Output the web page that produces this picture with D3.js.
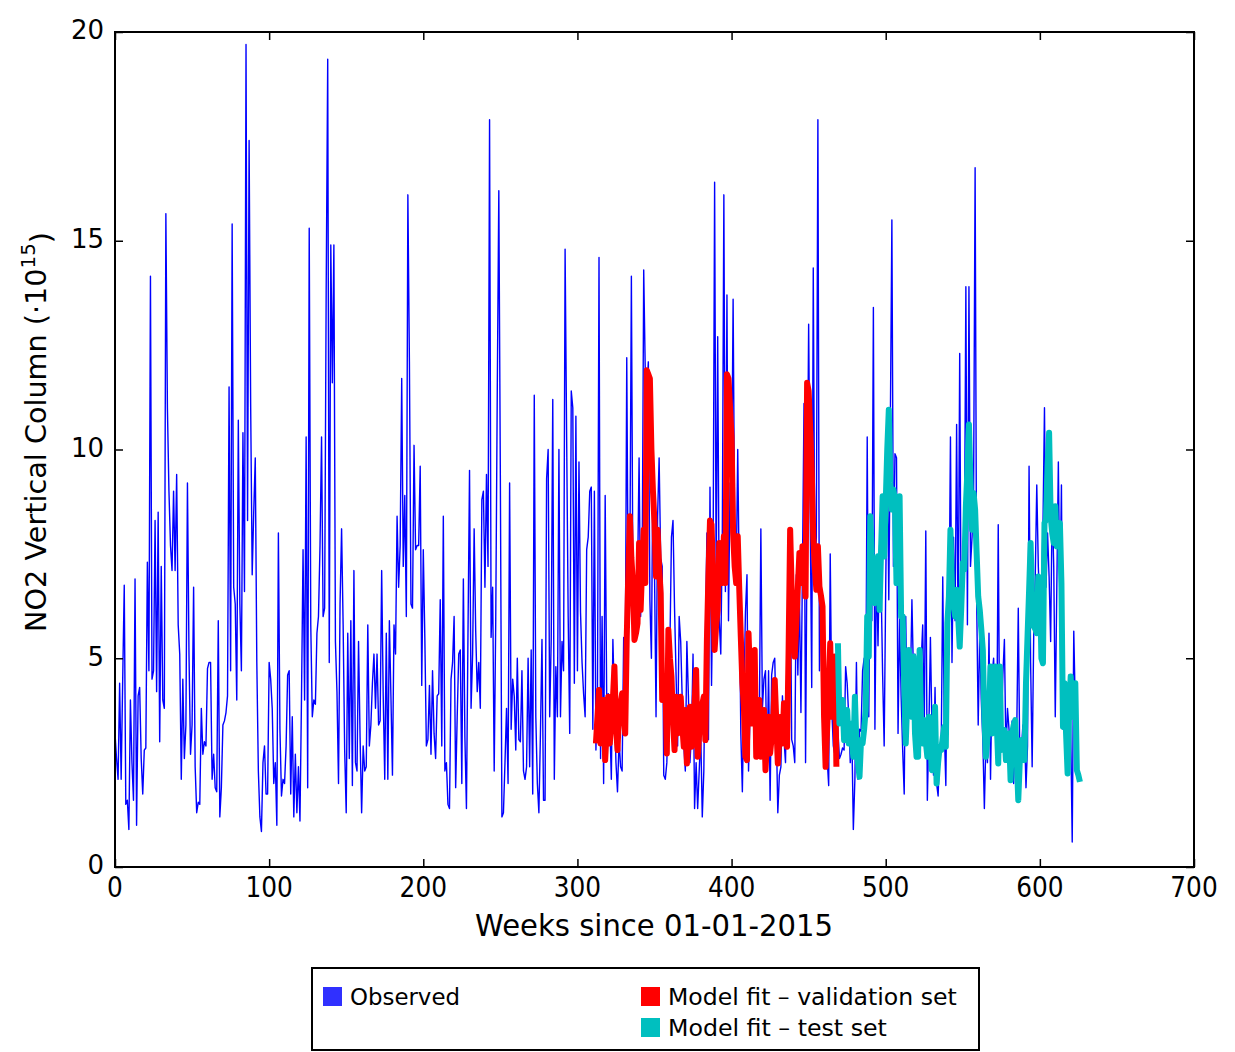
<!DOCTYPE html>
<html>
<head>
<meta charset="utf-8">
<script src="https://cdn.jsdelivr.net/npm/d3@7"></script>
<style>
  html, body { margin: 0; padding: 0; background: #fff; }
  svg { display: block; }
  text { font-family: "DejaVu Sans", "Liberation Sans", sans-serif; fill: #000; }
</style>
</head>
<body>
<svg id="chart" width="1235" height="1052"></svg>
<script>
// Weekly NO2 vertical column (units of 1e15), week index = position in array
const observed = [
  3.2, 2.6, 2.1, 4.4, 2.1, 4.5, 6.75, 1.5, 1.6, 0.9,
  4.0, 2.5, 1.6, 6.9, 1.0, 4.1, 4.3, 2.6, 1.75, 2.8,
  2.85, 7.3, 4.7, 14.15, 4.5, 4.7, 8.3, 4.2, 8.5, 3.0,
  7.2, 4.0, 3.8, 15.65, 11.0, 9.0, 7.7, 7.1, 9.0, 7.1,
  9.4, 5.8, 5.1, 2.1, 4.5, 2.6, 3.4, 9.2, 5.1, 2.7,
  3.4, 6.7, 2.4, 1.3, 1.55, 1.5, 3.8, 2.7, 3.0, 2.9,
  4.75, 4.9, 4.9, 2.1, 2.7, 1.9, 1.8, 5.9, 1.2, 1.9,
  3.4, 3.5, 3.7, 4.1, 11.5, 4.7, 15.4, 6.7, 6.3, 4.0,
  10.7, 6.3, 4.7, 10.4, 6.6, 19.7, 8.3, 17.4, 11.1, 7.0,
  8.5, 9.8, 4.9, 2.3, 1.2, 0.85, 2.5, 2.9, 1.75, 1.75,
  4.9, 4.5, 3.8, 2.0, 2.5, 1.0, 8.0, 3.3, 1.7, 2.1,
  2.0, 2.9, 4.6, 4.7, 1.75, 3.6, 1.2, 2.7, 1.3, 2.4,
  1.1, 4.1, 7.6, 4.0, 10.3, 1.9, 15.3, 5.8, 3.6, 4.0,
  3.9, 5.6, 6.0, 7.7, 10.3, 6.0, 6.2, 13.8, 19.35, 4.9,
  14.9, 11.6, 14.9, 5.4, 4.2, 2.0, 6.3, 8.1, 5.8, 2.8,
  1.3, 5.6, 2.6, 5.9, 1.95, 7.1, 2.5, 2.3, 5.4, 3.1,
  1.3, 2.9, 2.3, 2.4, 5.8, 2.9, 3.4, 4.4, 5.1, 3.8,
  5.1, 3.4, 3.5, 7.1, 4.1, 2.1, 5.6, 2.1, 5.9, 4.1,
  2.2, 5.8, 5.1, 8.4, 6.7, 7.7, 11.7, 7.2, 8.9, 6.0,
  16.1, 12.1, 6.3, 6.2, 10.1, 7.6, 7.7, 7.7, 9.6, 4.35,
  7.6, 5.5, 2.9, 3.05, 4.35, 2.7, 4.7, 3.2, 2.6, 4.1,
  4.15, 6.4, 2.9, 8.4, 2.3, 2.5, 1.5, 1.4, 4.5, 4.9,
  6.0, 1.9, 3.6, 5.1, 5.2, 2.0, 6.9, 3.1, 1.4, 5.6,
  9.5, 3.8, 5.1, 8.1, 5.65, 4.2, 4.9, 3.8, 8.8, 9.0,
  6.7, 9.4, 7.2, 17.9, 5.5, 6.7, 2.3, 5.9, 11.4, 16.2,
  9.3, 1.2, 1.3, 2.5, 3.8, 2.0, 9.2, 3.3, 4.5, 4.1,
  2.8, 5.0, 3.05, 3.0, 4.7, 2.3, 2.1, 2.4, 5.0, 2.4,
  5.2, 1.75, 11.3, 3.6, 2.0, 1.3, 3.2, 5.45, 1.6, 1.6,
  9.3, 10.0, 3.6, 5.45, 11.2, 2.1, 4.8, 3.6, 10.0, 3.6,
  5.4, 4.7, 14.8, 10.3, 6.0, 3.2, 11.4, 11.0, 4.4, 10.8,
  4.7, 9.7, 6.1, 4.9, 4.15, 3.6, 7.6, 7.9, 9.0, 9.1,
  3.3, 9.0, 2.8, 4.15, 14.6, 2.6, 6.0, 2.0, 8.9, 4.0,
  4.15, 3.5, 2.1, 5.45, 4.0, 2.5, 1.8, 3.05, 2.4, 2.3,
  5.5, 4.4, 12.2, 6.0, 7.1, 14.15, 6.7, 5.9, 6.2, 6.9,
  9.8, 6.0, 7.2, 14.3, 11.9, 11.4, 12.1, 6.4, 5.0, 9.8,
  7.1, 3.6, 8.4, 9.8, 7.4, 7.2, 2.2, 2.1, 2.5, 4.0,
  5.3, 7.9, 8.3, 6.2, 4.6, 2.9, 6.0, 5.4, 4.0, 2.9,
  2.3, 5.4, 4.1, 2.5, 3.2, 5.1, 1.4, 2.5, 1.4, 2.3,
  3.2, 1.2, 2.3, 5.4, 8.0, 3.05, 9.1, 4.35, 7.2, 16.4,
  6.8, 12.7, 5.9, 5.1, 8.0, 16.1, 6.6, 13.7, 5.9, 9.2,
  8.8, 13.6, 8.0, 6.9, 10.0, 6.75, 3.2, 1.8, 4.1, 6.1,
  7.0, 2.3, 3.7, 4.8, 3.7, 2.7, 3.05, 4.0, 3.45, 8.1,
  3.8, 4.5, 4.7, 2.3, 4.7, 1.6, 4.6, 4.9, 5.0, 3.3,
  1.3, 2.2, 2.4, 4.1, 3.05, 2.5, 5.3, 3.6, 7.7, 3.05,
  2.9, 2.5, 7.0, 4.6, 6.6, 3.7, 7.2, 11.1, 2.5, 8.0,
  13.0, 8.5, 4.3, 14.35, 7.1, 7.9, 17.9, 4.7, 6.6, 6.4,
  5.1, 3.4, 2.6, 1.95, 7.5, 3.8, 2.9, 2.7, 4.0, 3.25,
  2.6, 2.7, 2.85, 2.8, 4.8, 4.4, 3.6, 2.5, 3.25, 0.9,
  2.1, 4.9, 2.1, 3.3, 3.25, 4.7, 5.0, 3.4, 10.3, 3.6,
  7.7, 5.9, 13.4, 3.3, 7.3, 5.3, 7.7, 6.8, 4.6, 2.9,
  6.7, 10.1, 6.4, 10.6, 15.5, 7.2, 9.9, 9.8, 3.2, 6.0,
  4.1, 2.8, 1.75, 6.0, 3.3, 4.1, 4.35, 6.4, 4.6, 5.1,
  3.25, 4.5, 5.0, 4.9, 5.8, 3.3, 8.05, 1.6, 3.3, 5.5,
  3.3, 2.2, 4.3, 2.0, 1.7, 2.9, 2.8, 6.95, 3.3, 1.95,
  5.3, 5.65, 10.3, 4.9, 7.9, 5.9, 10.6, 5.4, 12.3, 5.3,
  7.1, 7.2, 13.9, 5.8, 13.9, 7.2, 7.9, 8.9, 16.75, 6.4,
  3.4, 5.65, 4.0, 3.05, 1.4, 3.05, 2.5, 5.6, 2.1, 4.6,
  5.0, 3.7, 2.9, 8.2, 2.6, 3.4, 4.6, 5.45, 2.7, 3.8,
  3.3, 2.7, 3.5, 2.0, 3.05, 3.2, 6.2, 2.5, 2.8, 3.4,
  3.4, 1.9, 2.9, 9.6, 4.9, 2.4, 5.5, 6.95, 9.15, 7.2,
  6.2, 6.55, 8.1, 11.0, 6.7, 8.0, 6.95, 5.4, 8.75, 7.2,
  3.6, 6.7, 9.7, 6.2, 9.15, 3.3, 4.2, 3.6, 4.0, 4.6,
  3.3, 0.6, 5.65, 3.8, 2.3
];

// Model fit on the validation weeks (starting at week 312)
const validationStart = 312;
const validationFit = [
  2.96, 3.6, 4.24, 2.96, 3.5, 4.0, 2.56, 3.3, 4.08, 2.96,
  3.5, 4.0, 4.8, 3.4, 2.8, 3.76, 3.9, 4.16, 3.6, 3.2,
  5.52, 7.0, 8.4, 7.4, 6.8, 5.44, 5.6, 5.84, 7.76, 6.16,
  7.2, 8.08, 6.8, 11.9, 11.8, 11.7, 10.0, 9.0, 8.23, 6.96,
  8.08, 7.2, 6.56, 4.0, 4.3, 4.56, 2.72, 5.68, 5.0, 4.56,
  3.5, 2.8, 4.08, 3.2, 3.6, 4.08, 3.4, 2.88, 3.76, 2.48,
  3.1, 3.84, 2.88, 3.4, 3.92, 4.72, 2.64, 3.2, 3.6, 3.9,
  4.08, 3.04, 5.44, 7.0, 8.3, 8.2, 6.96, 5.2, 5.8, 6.16,
  7.76, 7.2, 6.8, 7.92, 6.8, 11.8, 11.7, 11.0, 10.3, 8.0,
  7.2, 6.8, 7.92, 6.64, 5.5, 4.4, 3.84, 2.64, 2.56, 5.6,
  4.5, 3.44, 4.3, 5.2, 2.64, 3.3, 4.0, 2.64, 3.2, 3.76,
  2.32, 3.0, 3.6, 2.72, 3.1, 3.44, 4.48, 3.5, 2.48, 3.1,
  3.6, 2.96, 3.92, 3.4, 2.88, 5.2, 8.08, 6.64, 5.8, 5.04,
  5.84, 6.7, 7.52, 6.8, 7.68, 7.0, 6.48, 11.6, 11.4, 10.5,
  9.5, 7.92, 7.2, 6.64, 7.68, 6.72, 6.5, 6.24, 3.6, 2.4,
  3.3, 4.24, 5.36, 3.6, 4.3, 5.04, 2.4
];

// Model fit on the test weeks (starting at week 469)
const testStart = 469;
const testFit = [
  5.36, 3.44, 3.7, 4.0, 3.04, 3.4, 3.76, 2.96, 3.44, 3.0,
  2.64, 4.08, 2.96, 2.5, 2.16, 3.04, 2.96, 3.3, 3.76, 6.0,
  5.04, 8.4, 7.5, 6.96, 6.32, 6.9, 7.44, 6.16, 7.6, 8.88,
  7.44, 8.72, 10.0, 10.95, 9.2, 8.56, 9.04, 8.8, 6.8, 7.2,
  8.88, 6.0, 6.0, 4.4, 2.96, 4.0, 5.2, 4.2, 3.6, 5.04,
  3.2, 2.64, 2.64, 5.2, 3.2, 2.96, 3.52, 3.0, 2.64, 3.6,
  2.9, 2.32, 3.0, 3.84, 2.0, 2.5, 2.88, 2.8, 3.1, 3.36,
  2.88, 5.84, 6.48, 8.08, 6.64, 6.3, 6.0, 6.64, 6.0, 5.28,
  6.2, 7.28, 7.12, 8.64, 9.5, 10.6, 9.2, 8.08, 8.96, 8.56,
  7.5, 6.48, 6.16, 5.7, 5.2, 3.6, 2.64, 3.1, 3.6, 4.8,
  3.2, 4.0, 4.8, 3.5, 2.48, 4.8, 2.8, 3.0, 3.28, 2.56,
  2.9, 3.2, 2.08, 3.2, 3.4, 3.52, 2.6, 1.6, 2.56, 3.04,
  2.8, 2.56, 4.4, 5.52, 6.6, 7.76, 6.32, 5.76, 5.7, 5.6,
  6.96, 6.8, 5.0, 4.88, 8.24, 8.32, 9.6, 10.4, 8.4, 8.0,
  7.76, 8.64, 7.68, 8.0, 8.24, 6.8, 3.36, 4.4, 3.2, 2.24,
  3.76, 4.56, 3.6, 4.0, 4.4, 2.32, 2.2, 2.04
];

const xTicks = [0, 100, 200, 300, 400, 500, 600, 700];
const yTicks = [0, 5, 10, 15, 20];
const legendLabels = ["Observed", "Model fit \u2013 validation set", "Model fit \u2013 test set"];

// ---- layout ----
const plot = { left: 115, right: 1194, top: 32, bottom: 867 };
const colors = { observed: "#0000ff", validation: "#ff0000", test: "#00bfbf" };

const svg = d3.select("#chart");

const x = d3.scaleLinear().domain([0, 700]).range([plot.left, plot.right]);
const y = d3.scaleLinear().domain([0, 20]).range([plot.bottom, plot.top]);

svg.append("clipPath").attr("id", "plot-clip")
  .append("rect")
  .attr("x", plot.left).attr("y", plot.top)
  .attr("width", plot.right - plot.left).attr("height", plot.bottom - plot.top);

const layer = svg.append("g").attr("clip-path", "url(#plot-clip)");

function seriesPath(values, start) {
  return d3.line()
    .x((d, i) => x(start + i))
    .y(d => y(d))(values);
}

layer.append("path")
  .attr("d", seriesPath(observed, 0))
  .attr("fill", "none")
  .attr("stroke", colors.observed)
  .attr("stroke-width", 1.4)
  .attr("stroke-linejoin", "round");

layer.append("path")
  .attr("d", seriesPath(validationFit, validationStart))
  .attr("fill", "none")
  .attr("stroke", colors.validation)
  .attr("stroke-width", 6)
  .attr("stroke-linejoin", "round");

layer.append("path")
  .attr("d", seriesPath(testFit, testStart))
  .attr("fill", "none")
  .attr("stroke", colors.test)
  .attr("stroke-width", 6)
  .attr("stroke-linejoin", "round");

// ---- axes (inward ticks on all four sides) ----
const tickLen = 8;
const bottomAxis = d3.axisBottom(x).tickValues(xTicks).tickSize(-tickLen).tickFormat("");
const topAxis = d3.axisTop(x).tickValues(xTicks).tickSize(-tickLen).tickFormat("");
const leftAxis = d3.axisLeft(y).tickValues(yTicks).tickSize(-tickLen).tickFormat("");
const rightAxis = d3.axisRight(y).tickValues(yTicks).tickSize(-tickLen).tickFormat("");

function styleAxis(g) {
  g.select(".domain").remove();
  g.selectAll(".tick line").attr("stroke", "#000").attr("stroke-width", 1.5);
}
svg.append("g").attr("transform", `translate(0,${plot.bottom})`).call(bottomAxis).call(styleAxis);
svg.append("g").attr("transform", `translate(0,${plot.top})`).call(topAxis).call(styleAxis);
svg.append("g").attr("transform", `translate(${plot.left},0)`).call(leftAxis).call(styleAxis);
svg.append("g").attr("transform", `translate(${plot.right},0)`).call(rightAxis).call(styleAxis);

svg.append("rect")
  .attr("x", plot.left).attr("y", plot.top)
  .attr("width", plot.right - plot.left).attr("height", plot.bottom - plot.top)
  .attr("fill", "none").attr("stroke", "#000").attr("stroke-width", 2);

// horizontal scale factor that brings a text element to a given width
function fitWidth(sel, target) {
  const w = sel.node().getComputedTextLength();
  return w > 0 ? target / w : 1;
}

// x tick labels (narrow face)
xTicks.forEach(t => {
  const label = String(t);
  const g = svg.append("g").attr("transform", `translate(${x(t)},897)`);
  const txt = g.append("text")
    .attr("text-anchor", "middle")
    .style("font-size", "29px")
    .text(label);
  const s = fitWidth(txt, label.length * 15.8);
  txt.attr("transform", `scale(${s},1)`);
});

// y tick labels
yTicks.forEach(t => {
  svg.append("text")
    .attr("x", 104)
    .attr("y", y(t) - 2)
    .attr("dy", "0.36em")
    .attr("text-anchor", "end")
    .style("font-size", "26px")
    .text(t);
});

// x axis title
{
  const g = svg.append("g").attr("transform", "translate(654,936)");
  const txt = g.append("text").attr("text-anchor", "middle")
    .style("font-size", "30px").text("Weeks since 01-01-2015");
  txt.attr("transform", `scale(${fitWidth(txt, 358)},1)`);
}

// y axis title with superscript exponent
{
  const g = svg.append("g").attr("transform", "translate(46,432) rotate(-90)");
  const txt = g.append("text").attr("text-anchor", "middle").style("font-size", "29px");
  txt.append("tspan").text("NO2 Vertical Column (\u00b710");
  txt.append("tspan").attr("dy", "-0.55em").style("font-size", "20px").text("15");
  txt.append("tspan").attr("dy", "0.55em").text(")");
  const w = txt.node().getBBox().width;
  txt.attr("transform", `scale(${400 / w},1)`);
}

// ---- legend ----
const legend = svg.append("g");
legend.append("rect")
  .attr("x", 312).attr("y", 968).attr("width", 667).attr("height", 82)
  .attr("fill", "#fff").attr("stroke", "#000").attr("stroke-width", 2);

const legendItems = [
  { label: legendLabels[0], color: "#3030ff", x: 323, y: 987, w: 110 },
  { label: legendLabels[1], color: colors.validation, x: 641, y: 987, w: 289 },
  { label: legendLabels[2], color: colors.test, x: 641, y: 1018, w: 219 }
];
legendItems.forEach(it => {
  legend.append("rect")
    .attr("x", it.x).attr("y", it.y).attr("width", 19).attr("height", 19)
    .attr("fill", it.color);
  const g = legend.append("g").attr("transform", `translate(${it.x + 27},${it.y + 18})`);
  const txt = g.append("text")
    .style("font-size", "23px")
    .text(it.label);
  txt.attr("transform", `scale(${fitWidth(txt, it.w)},1)`);
});
</script>
</body>
</html>
